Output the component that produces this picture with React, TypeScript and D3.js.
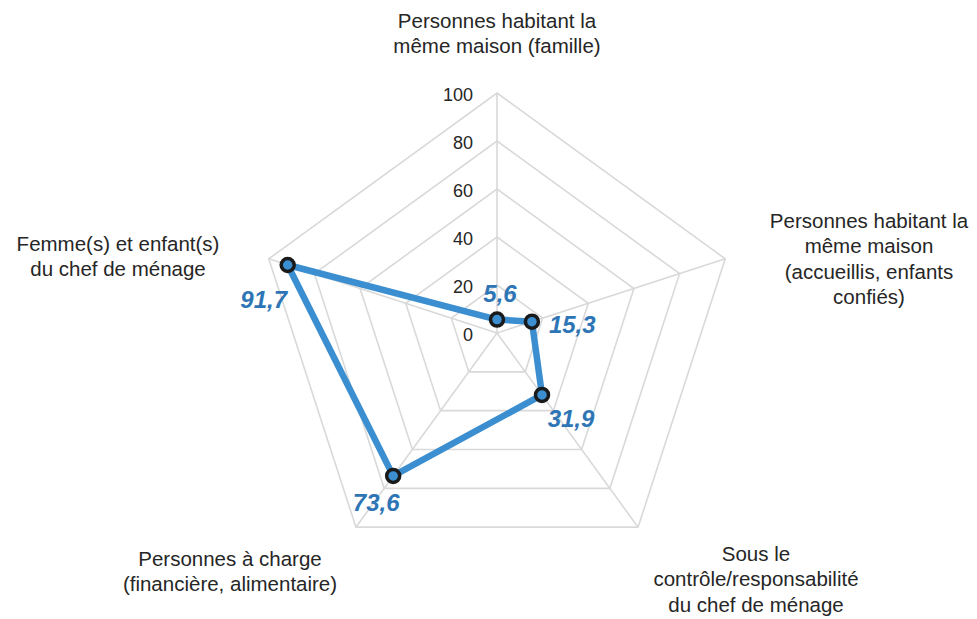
import React from "react";
import * as d3 from "d3";

const categories: string[][] = [
  ["Personnes habitant la", "même maison (famille)"],
  ["Personnes habitant la", "même maison", "(accueillis, enfants", "confiés)"],
  ["Sous le", "contrôle/responsabilité", "du chef de ménage"],
  ["Personnes à charge", "(financière, alimentaire)"],
  ["Femme(s) et enfant(s)", "du chef de ménage"],
];
const values: number[] = [5.6, 15.3, 31.9, 73.6, 91.7];
const valueLabels: string[] = ["5,6", "15,3", "31,9", "73,6", "91,7"];
const ticks: number[] = [0, 20, 40, 60, 80, 100];

const W = 977;
const H = 619;
const cx = 497;
const cy = 333;
const R = 240;

// label placement (relative to axis/point), styling only
const catPos = [
  { x: 497, y: 20 },
  { x: 869, y: 220 },
  { x: 756, y: 553 },
  { x: 230, y: 558 },
  { x: 118, y: 243 },
];
const valOffsets = [
  { dx: 3, dy: -26, anchor: "middle" },
  { dx: 17, dy: 3, anchor: "start" },
  { dx: 29, dy: 24, anchor: "middle" },
  { dx: -17, dy: 27, anchor: "middle" },
  { dx: -24, dy: 35, anchor: "middle" },
];

export default function App() {
  const r = d3.scaleLinear().domain([0, 100]).range([0, R]);
  const n = categories.length;
  const angle = (i: number) => (i * 2 * Math.PI) / n;
  const pt = (i: number, v: number): [number, number] => {
    const a = angle(i);
    return [cx + r(v) * Math.sin(a), cy - r(v) * Math.cos(a)];
  };
  const gridLine = d3.line<[number, number]>().curve(d3.curveLinearClosed);
  const dataLine = d3.line<[number, number]>().curve(d3.curveLinearClosed);
  const pts = values.map((v, i) => pt(i, v));
  const font = "'Liberation Sans', Arial, sans-serif";

  return (
    <svg
      width={W}
      height={H}
      style={{ position: "absolute", left: 0, top: 0, background: "#fff" }}
      fontFamily={font}
    >
      <g>
        {ticks
          .filter((t) => t > 0)
          .map((t) => (
            <path
              key={t}
              d={gridLine(d3.range(n).map((i) => pt(i, t))) || ""}
              fill="none"
              stroke="#d9d9d9"
              strokeWidth={1.6}
            />
          ))}
        {d3.range(n).map((i) => {
          const [x, y] = pt(i, 100);
          return (
            <line key={i} x1={cx} y1={cy} x2={x} y2={y} stroke="#d9d9d9" strokeWidth={1.6} />
          );
        })}
      </g>
      <g>
        {ticks.map((t) => (
          <text
            key={t}
            x={cx - 24}
            y={cy - r(t) + 2}
            textAnchor="end"
            dominantBaseline="central"
            fontSize={18}
            fill="#262626"
          >
            {t}
          </text>
        ))}
      </g>
      <path
        d={dataLine(pts) || ""}
        fill="none"
        stroke="#3b8fd1"
        strokeWidth={6.5}
        strokeLinejoin="round"
      />
      {pts.map(([x, y], i) => (
        <circle key={i} cx={x} cy={y} r={6.5} fill="#3b8fd1" stroke="#1a1a1a" strokeWidth={3.5} />
      ))}
      {pts.map(([x, y], i) => (
        <text
          key={i}
          x={x + valOffsets[i].dx}
          y={y + valOffsets[i].dy}
          textAnchor={valOffsets[i].anchor as any}
          dominantBaseline="central"
          fontSize={24}
          fontWeight="bold"
          fontStyle="italic"
          fill="#2e75b6"
        >
          {valueLabels[i]}
        </text>
      ))}
      {categories.map((lines, i) => (
        <text
          key={i}
          textAnchor="middle"
          fontSize={20.5}
          fill="#262626"
        >
          {lines.map((l, j) => (
            <tspan key={j} x={catPos[i].x} y={catPos[i].y + j * 25.5} dominantBaseline="central">
              {l}
            </tspan>
          ))}
        </text>
      ))}
    </svg>
  );
}
